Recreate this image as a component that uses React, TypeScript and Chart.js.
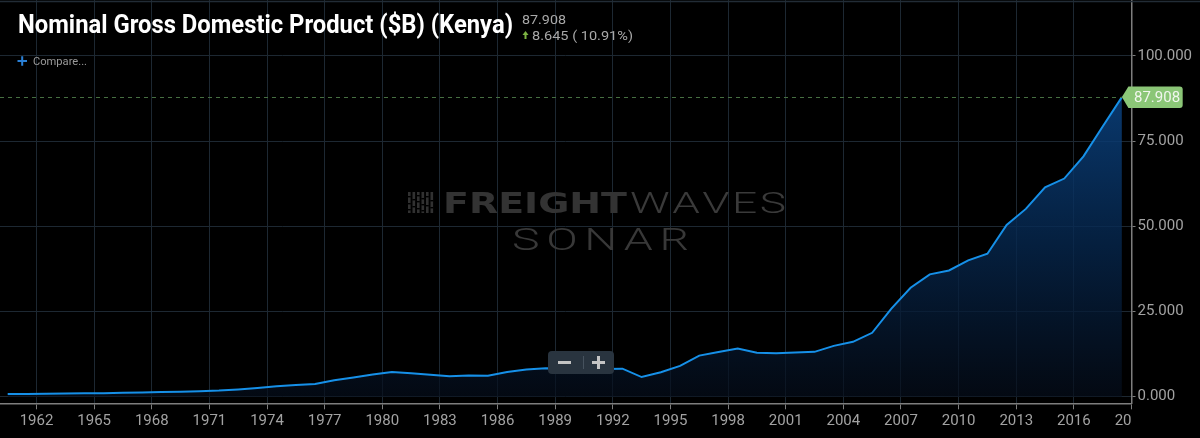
import React, { useEffect, useRef } from "react";
import { Chart, registerables } from "chart.js";

Chart.register(...registerables);

// ---- data ----
const YEARS = [
  1960, 1961, 1962, 1963, 1964, 1965, 1966, 1967, 1968, 1969,
  1970, 1971, 1972, 1973, 1974, 1975, 1976, 1977, 1978, 1979,
  1980, 1981, 1982, 1983, 1984, 1985, 1986, 1987, 1988, 1989,
  1990, 1991, 1992, 1993, 1994, 1995, 1996, 1997, 1998, 1999,
  2000, 2001, 2002, 2003, 2004, 2005, 2006, 2007, 2008, 2009,
  2010, 2011, 2012, 2013, 2014, 2015, 2016, 2017, 2018,
];
const GDP_BILLIONS = [
  0.791, 0.792, 0.868, 0.926, 0.998, 0.998, 1.164, 1.233, 1.353, 1.458,
  1.603, 1.778, 2.11, 2.552, 3.04, 3.404, 3.728, 4.813, 5.64, 6.476,
  7.265, 6.854, 6.431, 5.979, 6.192, 6.135, 7.24, 7.97, 8.355, 8.283,
  8.573, 8.152, 8.209, 5.752, 7.148, 9.047, 12.045, 13.116, 14.094, 12.897,
  12.706, 12.986, 13.148, 14.904, 16.096, 18.738, 25.826, 31.958, 35.895, 37.022,
  40.0, 41.953, 50.413, 55.097, 61.445, 64.008, 70.529, 79.263, 87.908,
];
const X_TICK_YEARS = [
  1962, 1965, 1968, 1971, 1974, 1977, 1980, 1983, 1986, 1989,
  1992, 1995, 1998, 2001, 2004, 2007, 2010, 2013, 2016, 2019,
];
const Y_TICK_VALUES = [0, 25, 50, 75, 100];
const TITLE = "Nominal Gross Domestic Product ($B) (Kenya)";
const COMPARE_TEXT = "Compare...";
const WATERMARK_TOP_BOLD = "FREIGHT";
const WATERMARK_TOP_THIN = "WAVES";
const WATERMARK_BOTTOM = "SONAR";

const LAST_VALUE = GDP_BILLIONS[GDP_BILLIONS.length - 1];
const PREV_VALUE = GDP_BILLIONS[GDP_BILLIONS.length - 2];
const CHANGE = LAST_VALUE - PREV_VALUE;
const CHANGE_PCT = (CHANGE / PREV_VALUE) * 100;

const GRID = "#1d2832";
const AXIS = "#7e7e7e";
const LABEL = "#a2a2a2";
const FONT = "Roboto";

function fitText(ctx: CanvasRenderingContext2D, text: string, x: number, baseline: number, font: string, width: number) {
  ctx.font = font;
  const w = ctx.measureText(text).width;
  ctx.save();
  ctx.translate(x, baseline);
  ctx.scale(width / w, 1);
  ctx.textAlign = "left";
  ctx.textBaseline = "alphabetic";
  ctx.fillText(text, 0, 0);
  ctx.restore();
}

function drawSpaced(ctx: CanvasRenderingContext2D, text: string, x0: number, x1: number, baseline: number, font: string, sx: number) {
  ctx.font = font;
  const chars = text.split("");
  const widths = chars.map((c) => ctx.measureText(c).width * sx);
  const total = widths.reduce((a, b) => a + b, 0);
  const gap = chars.length > 1 ? (x1 - x0 - total) / (chars.length - 1) : 0;
  let x = x0;
  ctx.textAlign = "left";
  ctx.textBaseline = "alphabetic";
  chars.forEach((c, i) => {
    ctx.save();
    ctx.translate(x, baseline);
    ctx.scale(sx, 1);
    ctx.fillText(c, 0, 0);
    ctx.restore();
    x += widths[i] + gap;
  });
}

const decorPlugin = {
  id: "decor",
  beforeDatasetsDraw(chart: any) {
    const ctx: CanvasRenderingContext2D = chart.ctx;
    ctx.save();
    // watermark icon
    ctx.fillStyle = "#313131";
    const barXs = [408, 412.5, 417, 421.5, 426, 430.5];
    barXs.forEach((bx) => {
      ctx.fillRect(bx, 192, 2.6, 21);
    });
    ctx.fillStyle = "#000";
    const cuts = [[196, 203, 209], [199, 206], [195, 201, 208], [198, 204, 210], [196, 205], [200, 207]];
    barXs.forEach((bx, i) => {
      cuts[i].forEach((cy) => ctx.fillRect(bx - 0.2, cy, 3, 1.4));
    });
    ctx.fillStyle = "#333333";
    fitText(ctx, WATERMARK_TOP_BOLD, 443, 213, `bold 29px "DejaVu Sans"`, 184);
    ctx.fillStyle = "#3a3a3a";
    drawSpaced(ctx, WATERMARK_TOP_THIN, 630, 786, 213, `300 29.5px ${FONT}`, 1.5);
    ctx.fillStyle = "#383838";
    drawSpaced(ctx, WATERMARK_BOTTOM, 512, 689, 250, `300 31px ${FONT}`, 1.5);
    ctx.restore();
  },
  afterDatasetsDraw(chart: any) {
    const ctx: CanvasRenderingContext2D = chart.ctx;
    const xs = chart.scales.x;
    const ys = chart.scales.y;
    const yv = ys.getPixelForValue(LAST_VALUE);
    const xv = xs.getPixelForValue(YEARS[YEARS.length - 1] + 0.5);
    ctx.save();
    ctx.strokeStyle = "#466f41";
    ctx.lineWidth = 1;
    ctx.setLineDash([4, 4]);
    ctx.beginPath();
    ctx.moveTo(chart.chartArea.left, Math.round(yv) + 0.5);
    ctx.lineTo(xv, Math.round(yv) + 0.5);
    ctx.stroke();
    ctx.restore();
  },
  afterDraw(chart: any) {
    const ctx: CanvasRenderingContext2D = chart.ctx;
    const xs = chart.scales.x;
    const ys = chart.scales.y;
    const area = chart.chartArea;
    ctx.save();

    // top border line
    ctx.strokeStyle = "#222c36";
    ctx.lineWidth = 1.5;
    ctx.beginPath();
    ctx.moveTo(0, 1.5);
    ctx.lineTo(chart.width, 1.5);
    ctx.stroke();

    // x labels, clipped at the right axis
    ctx.save();
    ctx.beginPath();
    ctx.rect(0, 0, area.right + 0.5, chart.height);
    ctx.clip();
    ctx.fillStyle = LABEL;
    ctx.font = `15px ${FONT}`;
    ctx.textAlign = "center";
    ctx.textBaseline = "middle";
    xs.ticks.forEach((t: any) => {
      ctx.fillText(String(t.value), xs.getPixelForValue(t.value), 421);
    });
    ctx.restore();

    // last value tag
    const yv = ys.getPixelForValue(LAST_VALUE);
    const xv = xs.getPixelForValue(YEARS[YEARS.length - 1] + 0.5);
    const top = yv - 10.5;
    const bot = yv + 11;
    const left = xv + 6.5;
    const right = 1182.7;
    const r = 3;
    ctx.fillStyle = "#8bc677";
    ctx.beginPath();
    ctx.moveTo(xv, yv);
    ctx.lineTo(left, top);
    ctx.lineTo(right - r, top);
    ctx.quadraticCurveTo(right, top, right, top + r);
    ctx.lineTo(right, bot - r);
    ctx.quadraticCurveTo(right, bot, right - r, bot);
    ctx.lineTo(left, bot);
    ctx.closePath();
    ctx.fill();
    ctx.fillStyle = "#f1f6ee";
    ctx.font = `15px ${FONT}`;
    ctx.textAlign = "left";
    ctx.textBaseline = "middle";
    ctx.fillText(LAST_VALUE.toFixed(3), 1134, yv + 1);

    // title
    ctx.fillStyle = "#ffffff";
    fitText(ctx, TITLE, 18, 32.5, `bold 26px ${FONT}`, 495);

    // header values
    ctx.fillStyle = "#a8a8a8";
    fitText(ctx, LAST_VALUE.toFixed(3), 522, 23.5, `13px ${FONT}`, 44);
    fitText(ctx, `${CHANGE.toFixed(3)} ( ${CHANGE_PCT.toFixed(2)}%)`, 532, 39.5, `13px ${FONT}`, 101);
    ctx.fillStyle = "#7cb342";
    ctx.beginPath();
    ctx.moveTo(522.5, 35);
    ctx.lineTo(528.5, 35);
    ctx.lineTo(525.5, 31);
    ctx.closePath();
    ctx.fill();
    ctx.fillRect(524.5, 34.5, 2, 4.5);

    // compare
    ctx.strokeStyle = "#2a80d6";
    ctx.lineWidth = 2;
    ctx.beginPath();
    ctx.moveTo(17.5, 61);
    ctx.lineTo(27, 61);
    ctx.moveTo(22.2, 56.3);
    ctx.lineTo(22.2, 65.7);
    ctx.stroke();
    ctx.fillStyle = "#9a9a9a";
    fitText(ctx, COMPARE_TEXT, 33, 65, `11px ${FONT}`, 54);

    // zoom buttons
    const bx = 548, by = 351, bw = 66, bh = 23, br = 4;
    ctx.fillStyle = "#29343f";
    ctx.beginPath();
    ctx.moveTo(bx + br, by);
    ctx.lineTo(bx + bw - br, by);
    ctx.quadraticCurveTo(bx + bw, by, bx + bw, by + br);
    ctx.lineTo(bx + bw, by + bh - br);
    ctx.quadraticCurveTo(bx + bw, by + bh, bx + bw - br, by + bh);
    ctx.lineTo(bx + br, by + bh);
    ctx.quadraticCurveTo(bx, by + bh, bx, by + bh - br);
    ctx.lineTo(bx, by + br);
    ctx.quadraticCurveTo(bx, by, bx + br, by);
    ctx.closePath();
    ctx.fill();
    ctx.strokeStyle = "#46525e";
    ctx.lineWidth = 1;
    ctx.beginPath();
    ctx.moveTo(583.5, 356);
    ctx.lineTo(583.5, 369);
    ctx.stroke();
    ctx.fillStyle = "#c4c4c4";
    ctx.fillRect(558, 361, 13, 3);
    ctx.fillRect(592, 361, 13, 3);
    ctx.fillRect(597, 356, 3, 13);

    ctx.restore();
  },
};

export default function App() {
  const ref = useRef<HTMLCanvasElement | null>(null);

  useEffect(() => {
    if (!ref.current) return;
    const points = YEARS.map((y, i) => ({ x: y + 0.5, y: GDP_BILLIONS[i] }));
    const chart = new Chart(ref.current, {
      type: "line",
      data: {
        datasets: [
          {
            data: points,
            borderColor: "#1690e8",
            borderWidth: 2,
            pointRadius: 0,
            pointHoverRadius: 0,
            tension: 0,
            fill: "origin",
            backgroundColor: (c: any) => {
              const ch = c.chart;
              const area = ch.chartArea;
              if (!area) return "rgba(0,0,0,0)";
              const yTop = ch.scales.y.getPixelForValue(LAST_VALUE);
              const g = ch.ctx.createLinearGradient(0, yTop, 0, area.bottom);
              g.addColorStop(0, "rgba(11,66,128,0.85)");
              g.addColorStop(0.5, "rgba(6,38,76,0.8)");
              g.addColorStop(1, "rgba(5,12,24,0.7)");
              return g;
            },
          },
        ],
      },
      options: {
        responsive: false,
        animation: false,
        events: [],
        layout: { padding: 0 },
        plugins: { legend: { display: false }, tooltip: { enabled: false } },
        scales: {
          x: {
            type: "linear",
            min: 1960.1,
            max: 2019.0,
            afterBuildTicks: (s: any) => {
              s.ticks = X_TICK_YEARS.map((v) => ({ value: v }));
            },
            afterFit: (s: any) => {
              s.height = 34.7;
              s.paddingLeft = 0;
              s.paddingRight = 0;
            },
            ticks: {
              color: "rgba(0,0,0,0)",
              font: { size: 15, family: FONT },
              autoSkip: false,
              maxRotation: 0,
              callback: (v: any) => String(v),
            },
            grid: { color: GRID, tickColor: AXIS, tickLength: 6, lineWidth: 1 },
            border: { color: AXIS, width: 1.5 },
          },
          y: {
            type: "linear",
            position: "right",
            min: -1.95,
            max: 116.4,
            afterBuildTicks: (s: any) => {
              s.ticks = Y_TICK_VALUES.map((v) => ({ value: v }));
            },
            afterFit: (s: any) => {
              s.width = 68.5;
              s.paddingTop = 0;
              s.paddingBottom = 0;
            },
            ticks: {
              color: LABEL,
              font: { size: 15, family: FONT },
              padding: 2,
              autoSkip: false,
              callback: (v: any) => Number(v).toFixed(3),
            },
            grid: { color: GRID, tickColor: AXIS, tickLength: 4, lineWidth: 1 },
            border: { color: AXIS, width: 1.5 },
          },
        },
      },
      plugins: [decorPlugin],
    });
    return () => chart.destroy();
  }, []);

  return (
    <div style={{ position: "fixed", left: 0, top: 0, width: 1200, height: 438, background: "#000" }}>
      <canvas ref={ref} width={1200} height={438} style={{ display: "block", width: 1200, height: 438 }} />
    </div>
  );
}
